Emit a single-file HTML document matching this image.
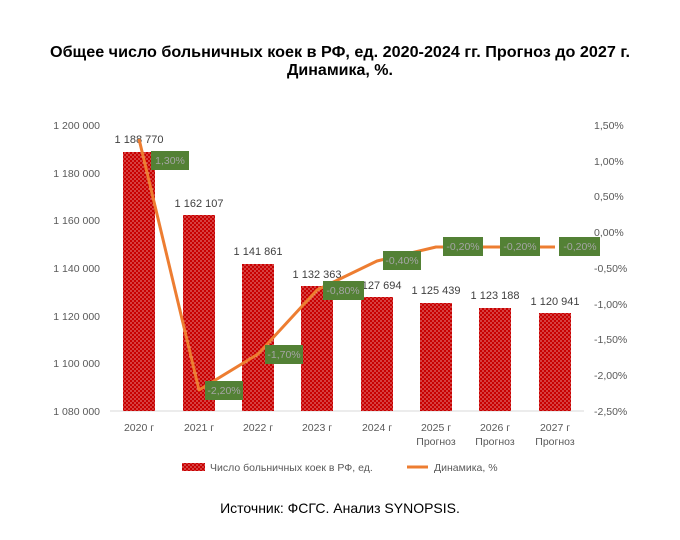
<!DOCTYPE html>
<html><head><meta charset="utf-8"><style>
body{margin:0;background:#fff;}
svg{display:block;font-family:"Liberation Sans",sans-serif;}
</style></head><body>
<svg width="680" height="540" viewBox="0 0 680 540">
<defs>
<pattern id="dots" width="4" height="4" patternUnits="userSpaceOnUse">
<rect width="4" height="4" fill="#c80000"/>
<rect x="0.5" y="0.5" width="1" height="1" fill="#ffffff"/>
<rect x="2.5" y="2.5" width="1" height="1" fill="#ffffff"/>
</pattern>
</defs>
<text x="340" y="57" text-anchor="middle" font-size="16" font-weight="bold" textLength="580" lengthAdjust="spacingAndGlyphs">Общее число больничных коек в РФ, ед. 2020-2024 гг. Прогноз до 2027 г.</text>
<text x="340" y="75" text-anchor="middle" font-size="16" font-weight="bold">Динамика, %.</text>
<g font-size="10.5" fill="#595959" text-anchor="end">
<text x="100" y="129">1 200 000</text>
<text x="100" y="177">1 180 000</text>
<text x="100" y="224">1 160 000</text>
<text x="100" y="272">1 140 000</text>
<text x="100" y="320">1 120 000</text>
<text x="100" y="367">1 100 000</text>
<text x="100" y="415">1 080 000</text>
</g>
<g font-size="10.5" fill="#595959">
<text x="594" y="129">1,50%</text>
<text x="594" y="165">1,00%</text>
<text x="594" y="200">0,50%</text>
<text x="594" y="236">0,00%</text>
<text x="594" y="272">-0,50%</text>
<text x="594" y="308">-1,00%</text>
<text x="594" y="343">-1,50%</text>
<text x="594" y="379">-2,00%</text>
<text x="594" y="415">-2,50%</text>
</g>
<line x1="110" y1="411" x2="584" y2="411" stroke="#d9d9d9"/>
<g fill="url(#dots)">
<rect x="123" y="152" width="32" height="259"/>
<rect x="183" y="215" width="32" height="196"/>
<rect x="242" y="264" width="32" height="147"/>
<rect x="301" y="286" width="32" height="125"/>
<rect x="361" y="297" width="32" height="114"/>
<rect x="420" y="303" width="32" height="108"/>
<rect x="479" y="308" width="32" height="103"/>
<rect x="539" y="313" width="32" height="98"/>
</g>
<g font-size="11" fill="#404040" text-anchor="middle">
<text x="139" y="143">1 188 770</text>
<text x="199" y="207">1 162 107</text>
<text x="258" y="255">1 141 861</text>
<text x="317" y="278">1 132 363</text>
<text x="377" y="289">1 127 694</text>
<text x="436" y="294">1 125 439</text>
<text x="495" y="299">1 123 188</text>
<text x="555" y="305">1 120 941</text>
</g>
<polyline points="139,139 199,390 258,354 317,290 377,261 436,247 495,247 555,247" fill="none" stroke="#ed7d31" stroke-width="3" stroke-linejoin="round"/>
<g fill="#538135">
<rect x="151" y="151" width="38" height="19"/>
<rect x="205" y="381" width="38" height="19"/>
<rect x="265" y="345" width="38" height="19"/>
<rect x="323" y="281" width="41" height="19"/>
<rect x="383" y="251" width="38" height="19"/>
<rect x="443" y="237" width="40" height="19"/>
<rect x="500" y="237" width="40" height="19"/>
<rect x="559" y="237" width="41" height="19"/>
</g>
<g font-size="10.5" fill="#a5a5a5" text-anchor="middle">
<text x="170" y="164">1,30%</text>
<text x="224" y="394">-2,20%</text>
<text x="284" y="358">-1,70%</text>
<text x="343" y="294">-0,80%</text>
<text x="402" y="264">-0,40%</text>
<text x="463" y="250">-0,20%</text>
<text x="520" y="250">-0,20%</text>
<text x="580" y="250">-0,20%</text>
</g>
<g font-size="10.5" fill="#595959" text-anchor="middle">
<text x="139" y="431">2020 г</text>
<text x="199" y="431">2021 г</text>
<text x="258" y="431">2022 г</text>
<text x="317" y="431">2023 г</text>
<text x="377" y="431">2024 г</text>
<text x="436" y="431">2025 г</text>
<text x="495" y="431">2026 г</text>
<text x="555" y="431">2027 г</text>
<text x="436" y="445">Прогноз</text>
<text x="495" y="445">Прогноз</text>
<text x="555" y="445">Прогноз</text>
</g>
<rect x="182" y="463" width="23" height="8" fill="url(#dots)"/>
<text x="210" y="471" font-size="10.5" fill="#595959">Число больничных коек в РФ, ед.</text>
<line x1="407" y1="467" x2="428" y2="467" stroke="#ed7d31" stroke-width="3"/>
<text x="434" y="471" font-size="10.5" fill="#595959">Динамика, %</text>
<text x="340" y="513" text-anchor="middle" font-size="14">Источник: ФСГС. Анализ SYNOPSIS.</text>
</svg>
</body></html>
